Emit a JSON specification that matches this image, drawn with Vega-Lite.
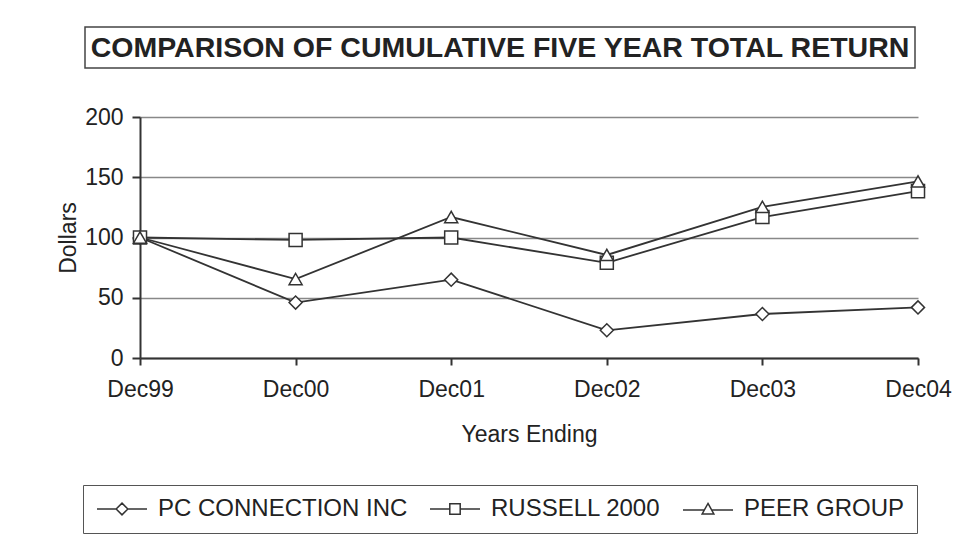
{
  "$schema": "https://vega.github.io/schema/vega-lite/v6.json",
  "background": "white",
  "padding": {"left": 57, "top": 26, "right": 0, "bottom": 0},
  "spacing": 37,
  "resolve": {"legend": {"shape": "independent"}},
  "config": {
    "font": "Liberation Sans",
    "view": {"stroke": null},
    "axis": {
      "labelFont": "Liberation Sans",
      "labelFontSize": 23,
      "labelColor": "#222",
      "titleFont": "Liberation Sans",
      "titleFontSize": 23,
      "titleFontWeight": "normal",
      "titleColor": "#222",
      "domainColor": "#333",
      "domainWidth": 2,
      "tickColor": "#333",
      "tickWidth": 2,
      "gridColor": "#888",
      "gridWidth": 1.5
    }
  },
  "vconcat": [
    {
      "width": 830,
      "height": 41,
      "view": {"stroke": "#444", "strokeWidth": 1.5},
      "data": {"values": [{"label": "COMPARISON OF CUMULATIVE FIVE YEAR TOTAL RETURN"}]},
      "mark": {"type": "text", "font": "Liberation Sans", "fontWeight": "bold", "fontSize": 28.5, "color": "#222", "align": "center", "baseline": "middle"},
      "encoding": {"text": {"field": "label"}}
    },
    {
      "spacing": -32,
      "resolve": {"legend": {"shape": "independent"}},
      "hconcat": [
        {
          "width": 1,
          "height": 1,
          "data": {"values": [{"k": 0}]},
          "mark": {"type": "point", "opacity": 0}
        },
        {
          "width": 778,
          "height": 241,
          "data": {
            "values": [
              {"year": "Dec99", "series": "PC CONNECTION INC", "value": 100},
              {"year": "Dec00", "series": "PC CONNECTION INC", "value": 46},
              {"year": "Dec01", "series": "PC CONNECTION INC", "value": 65},
              {"year": "Dec02", "series": "PC CONNECTION INC", "value": 23},
              {"year": "Dec03", "series": "PC CONNECTION INC", "value": 36.5},
              {"year": "Dec04", "series": "PC CONNECTION INC", "value": 42},
              {"year": "Dec99", "series": "RUSSELL 2000", "value": 100},
              {"year": "Dec00", "series": "RUSSELL 2000", "value": 98},
              {"year": "Dec01", "series": "RUSSELL 2000", "value": 100},
              {"year": "Dec02", "series": "RUSSELL 2000", "value": 79},
              {"year": "Dec03", "series": "RUSSELL 2000", "value": 117},
              {"year": "Dec04", "series": "RUSSELL 2000", "value": 138.5},
              {"year": "Dec99", "series": "PEER GROUP", "value": 100},
              {"year": "Dec00", "series": "PEER GROUP", "value": 65.5},
              {"year": "Dec01", "series": "PEER GROUP", "value": 117},
              {"year": "Dec02", "series": "PEER GROUP", "value": 85.5},
              {"year": "Dec03", "series": "PEER GROUP", "value": 125.5},
              {"year": "Dec04", "series": "PEER GROUP", "value": 146.5}
            ]
          },
          "encoding": {
            "x": {
              "field": "year",
              "type": "ordinal",
              "sort": ["Dec99", "Dec00", "Dec01", "Dec02", "Dec03", "Dec04"],
              "scale": {"type": "point", "padding": 0},
              "axis": {"title": "Years Ending", "labelAngle": 0, "grid": false, "tickSize": 7, "labelPadding": 13, "titlePadding": 22}
            },
            "y": {
              "field": "value",
              "type": "quantitative",
              "scale": {"domain": [0, 200]},
              "axis": {"title": "Dollars", "values": [0, 50, 100, 150, 200], "grid": true, "tickSize": 8, "labelPadding": 9, "titlePadding": 4}
            }
          },
          "resolve": {"scale": {"shape": "independent"}, "legend": {"shape": "independent"}},
          "layer": [
            {
              "mark": {"type": "line", "color": "#333", "strokeWidth": 1.8},
              "encoding": {"detail": {"field": "series"}}
            },
            {
              "mark": {"type": "point", "filled": true, "fill": "white", "stroke": "#333", "strokeWidth": 1.5, "size": 170, "opacity": 1},
              "encoding": {
                "shape": {
                  "field": "series",
                  "type": "nominal",
                  "scale": {"domain": ["PC CONNECTION INC", "RUSSELL 2000", "PEER GROUP"], "range": ["diamond", "square", "triangle-up"]},
                  "legend": null
                }
              }
            },
            {
              "transform": [{"filter": "false"}],
              "mark": {"type": "point", "filled": true, "fill": "white", "stroke": "#333", "strokeWidth": 1.5, "size": 169, "opacity": 1},
              "encoding": {
                "shape": {
                  "field": "series",
                  "type": "nominal",
                  "scale": {
                    "domain": ["PC CONNECTION INC", "RUSSELL 2000", "PEER GROUP"],
                    "range": [
                      "M-3.85,0H-0.9M0.9,0H3.85M0,-0.9L0.9,0L0,0.9L-0.9,0Z",
                      "M-3.85,0H-0.8M0.8,0H3.85M-0.8,-0.8H0.8V0.8H-0.8Z",
                      "M-3.85,0.15H-0.5M0.5,0.15H3.85M0,-0.85L0.9,0.75H-0.9Z"
                    ]
                  },
                  "legend": {
                    "title": null,
                    "orient": "none",
                    "legendX": -57,
                    "legendY": 368,
                    "direction": "horizontal",
                    "strokeColor": "#555",
                    "padding": 12,
                    "labelFont": "Liberation Sans",
                    "labelFontSize": 24,
                    "labelColor": "#222",
                    "labelLimit": 600,
                    "labelOffset": 24,
                    "columnPadding": 18,
                    "symbolSize": 169,
                    "symbolOffset": 15,
                    "symbolStrokeWidth": 1.5,
                    "encode": {"legend": {"strokeWidth": {"value": 1.5}}}
                  }
                }
              }
            }
          ]
        }
      ]
    }
  ]
}
